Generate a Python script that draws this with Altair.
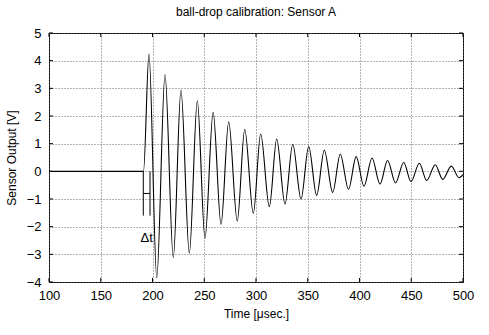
import altair as alt
import pandas as pd

# Signal samples: flat baseline, onset, then peaks/troughs
times = [100, 150, 191.3, 196.6, 204.1, 212.1, 220.1, 227.5, 235.6, 243.3, 250.7,
         258.6, 266.2, 273.6, 281.9, 289.1, 297.4, 304.5, 312.9, 320.0, 328.0,
         335.5, 343.5, 350.9, 358.6, 366.0, 374.1, 381.4, 389.4, 396.8, 404.3,
         412.1, 419.8, 427.1, 434.8, 442.7, 449.8, 457.8, 464.9, 473.2, 480.4,
         488.7, 496.1, 500]
values = [0, 0, 0, 4.25, -3.85, 3.5, -3.12, 2.94, -2.96, 2.55, -2.42,
          2.13, -1.92, 1.79, -1.80, 1.52, -1.52, 1.35, -1.28, 1.17, -1.18,
          0.98, -1.0, 0.90, -0.87, 0.76, -0.76, 0.62, -0.65, 0.53, -0.54,
          0.48, -0.46, 0.39, -0.42, 0.32, -0.37, 0.29, -0.33, 0.24, -0.29,
          0.19, -0.23, -0.12]

x_ticks = [100, 150, 200, 250, 300, 350, 400, 450, 500]
y_ticks = [-4, -3, -2, -1, 0, 1, 2, 3, 4, 5]

# Delta-t marker (data coordinates)
dt_times = [191.1, 197.6]
dt_top = 0
dt_bottom = -1.6
dt_bar = -0.8
dt_label_t = 194.4
dt_label_v = -2.4

W, H = 414, 249
FONT = "Liberation Sans"

xscale = alt.Scale(domain=[100, 500], nice=False, zero=False)
yscale = alt.Scale(domain=[-4, 5], nice=False, zero=False)

df = pd.DataFrame({"t": times, "v": values})

common = dict(grid=True, gridDash=[1, 2], gridColor="#666666", gridWidth=1,
              domain=False, ticks=False, labelFont=FONT, labelFontSize=13,
              labelColor="black", labelOverlap=False, labelFlush=False,
              titleFont=FONT, titleFontSize=12, titleFontWeight="normal",
              titleColor="black")
XAX = alt.Axis(values=x_ticks, title="Time [μsec.]", labelPadding=7,
               titlePadding=6, **common)
YAX = alt.Axis(values=y_ticks, title="Sensor Output [V]", labelPadding=8,
               titlePadding=8, **common)


def X(field):
    return alt.X(field, type="quantitative", scale=xscale, axis=XAX, title="Time [μsec.]")


def Y(field):
    return alt.Y(field, type="quantitative", scale=yscale, axis=YAX,
                 title="Sensor Output [V]")


line = alt.Chart(df).mark_line(interpolate="monotone", color="black",
                               strokeWidth=1.1).encode(x=X("t"), y=Y("v"))

# inward ticks on all four sides
xt = pd.DataFrame({"t": x_ticks})
yt = pd.DataFrame({"v": y_ticks})
tick_len = 4
xt_bottom = alt.Chart(xt).mark_rule(color="black", strokeWidth=1).encode(
    x=X("t"), y=alt.value(H), y2=alt.value(H - tick_len))
xt_top = alt.Chart(xt).mark_rule(color="black", strokeWidth=1).encode(
    x=X("t"), y=alt.value(0), y2=alt.value(tick_len))
yt_left = alt.Chart(yt).mark_rule(color="black", strokeWidth=1).encode(
    y=Y("v"), x=alt.value(0), x2=alt.value(tick_len))
yt_right = alt.Chart(yt).mark_rule(color="black", strokeWidth=1).encode(
    y=Y("v"), x=alt.value(W), x2=alt.value(W - tick_len))

dtv = pd.DataFrame({"t": dt_times, "top": [dt_top] * 2, "bot": [dt_bottom] * 2})
dt_vert = alt.Chart(dtv).mark_rule(color="black", strokeWidth=1).encode(
    x=X("t"), y=Y("top"), y2="bot:Q")
dth = pd.DataFrame({"t1": [dt_times[0]], "t2": [dt_times[1]], "v": [dt_bar]})
dt_horiz = alt.Chart(dth).mark_rule(color="black", strokeWidth=1).encode(
    x=X("t1"), x2="t2:Q", y=Y("v"))
dtl = pd.DataFrame({"t": [dt_label_t], "v": [dt_label_v], "s": ["Δt"]})
dt_text = alt.Chart(dtl).mark_text(font=FONT, fontSize=13, color="black").encode(
    x=X("t"), y=Y("v"), text="s:N")

chart = alt.layer(line, xt_bottom, xt_top, yt_left, yt_right, dt_vert, dt_horiz,
                  dt_text).properties(
    width=W, height=H,
    title=alt.TitleParams("ball-drop calibration: Sensor A", font=FONT, fontSize=12,
                          fontWeight="normal", color="black", offset=8),
    autosize=alt.AutoSizeParams(type="none"),
    padding={"left": 49, "top": 33, "right": 26, "bottom": 53},
    background="white",
).configure_view(stroke="black", strokeWidth=1)

chart.save("out.html", embed_options={"renderer": "svg", "actions": False})
